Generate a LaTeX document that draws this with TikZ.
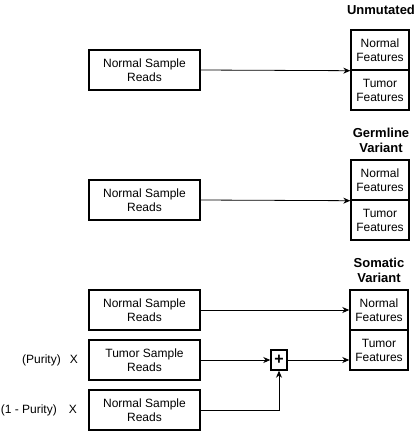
\documentclass[tikz,border=0pt]{standalone}
\usepackage{fontspec}
\setmainfont{Liberation Sans}
\usetikzlibrary{arrows.meta}
\begin{document}
\begin{tikzpicture}[x=1pt,y=-1pt,
  readbox/.style={draw,line width=1.6pt,minimum width=111pt,minimum height=40pt,inner sep=0pt,align=center,font=\fontsize{12}{14}\selectfont},
  featbox/.style={draw,line width=1.4pt,minimum width=58pt,minimum height=40pt,inner sep=0pt,align=center,font=\fontsize{12}{14}\selectfont},
  title/.style={align=center,font=\fontsize{13}{15}\bfseries\selectfont,inner sep=0pt},
  lbl/.style={font=\fontsize{12}{14}\selectfont,inner sep=0pt},
  conn/.style={line width=0.8pt,-{Stealth[length=7pt,width=6pt]}}]
\useasboundingbox (0,0) rectangle (420,432);
% Unmutated
\node[title] (t1) at (381,10) {Unmutated};
\node[readbox] (r1) at (144.5,70) {Normal Sample\\Reads};
\node[featbox] (f1n) at (380,50) {Normal\\Features};
\node[featbox] (f1t) at (380,90) {Tumor\\Features};
\draw[conn] (r1.east) -- (f1n.south west);
% Germline
\node[title] (t2) at (381,140) {Germline\\Variant};
\node[readbox] (r2) at (144.5,200) {Normal Sample\\Reads};
\node[featbox] (f2n) at (380,180) {Normal\\Features};
\node[featbox] (f2t) at (380,220) {Tumor\\Features};
\draw[conn] (r2.east) -- (f2n.south west);
% Somatic
\node[title] (t3) at (379,270) {Somatic\\Variant};
\node[readbox] (r3) at (144.5,310) {Normal Sample\\Reads};
\node[readbox] (r4) at (144.5,360) {Tumor Sample\\Reads};
\node[readbox] (r5) at (144.5,410) {Normal Sample\\Reads};
\node[featbox] (f3n) at (379,310) {Normal\\Features};
\node[featbox] (f3t) at (379,350) {Tumor\\Features};
\node[draw,line width=1.4pt,minimum width=16pt,minimum height=20pt,inner sep=0pt,font=\fontsize{16}{18}\bfseries\selectfont] (plus) at (279,360) {+};
\node[lbl,anchor=east] (p1) at (78,360) {(Purity)\hspace{9pt}X};
\node[lbl,anchor=east] (p2) at (77,410) {(1 - Purity)\hspace{12pt}X};
\draw[conn] (r3.east) -- (f3n.west);
\draw[conn] (r4.east) -- (plus.west);
\draw[conn] (plus.east) -- (f3t.west |- plus.east);
\draw[conn] (r5.east) -| (plus.south);
\end{tikzpicture}
\end{document}
